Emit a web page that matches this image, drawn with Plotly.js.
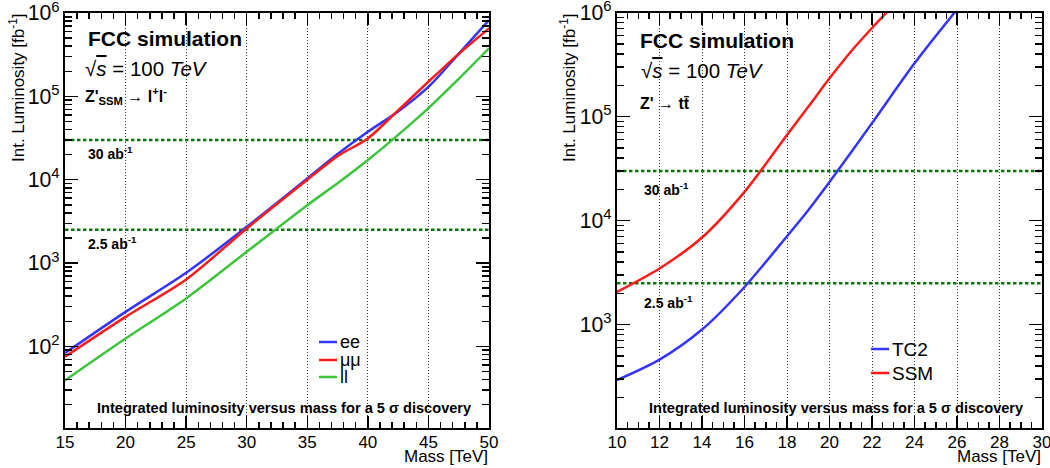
<!DOCTYPE html>
<html>
<head>
<meta charset="utf-8">
<script src="https://cdn.plot.ly/plotly-3.0.1.min.js"></script>
<style>html,body{margin:0;padding:0;background:#fff;}#chart{width:1050px;height:468px;}</style>
</head>
<body>
<div id="chart"></div>
<script>
// ---------- data ----------
const massLeft   = [15, 20, 25, 30, 35, 37.5, 40, 42.5, 45, 47.5, 50];           // TeV
const lumiEE     = [83, 259, 762, 2720, 10350, 20300, 37600, 66000, 130000, 324000, 824000]; // fb^-1
const lumiMuMu   = [75, 226, 635, 2600, 10000, 19200, 31300, 68000, 150000, 324000, 655000];
const lumiLL     = [39, 124, 376, 1365, 4950, 9040, 17200, 34500, 72400, 162000, 377000];

const massTC2    = [10, 12, 14, 16, 18, 19, 20, 22, 24, 26];
const lumiTC2    = [292, 460, 896, 2300, 7080, 12600, 23500, 86500, 325000, 1070000];
const massSSM    = [10, 12, 14, 16, 18, 19, 20, 21, 22, 23];
const lumiSSM    = [2060, 3460, 6870, 18900, 66400, 124000, 233000, 420000, 710000, 1170000];

const massRangeLeft  = [15, 50];
const massRangeRight = [10, 30];
const lumiTargets    = [30000, 2500];                       // fb^-1
const targetLabels   = ['30 ab<sup>-1</sup>', '2.5 ab<sup>-1</sup>'];
const seriesLeft     = ['ee', 'μμ', 'll'];
const seriesRight    = ['TC2', 'SSM'];

// ---------- style ----------
const W = 1050, H = 468;
const px = v => v / W, py = v => 1 - v / H;
const FONT = 'Liberation Sans, Arial, Helvetica, sans-serif';
const COL = {blue: '#3434ff', red: '#ff1a1a', green: '#3cc43c', dgreen: '#0c760c'};
const colorsLeft = [COL.blue, COL.red, COL.green];
const colorsRight = [COL.blue, COL.red];

function curve(x, y, color, xa, ya) {
  return {x: x, y: y, xaxis: xa, yaxis: ya, type: 'scatter', mode: 'lines',
    line: {color: color, width: 2.5, shape: 'spline', smoothing: 0.8},
    showlegend: false, hoverinfo: 'x+y'};
}
function target(range, val, xa, ya) {
  return {x: range, y: [val, val], xaxis: xa, yaxis: ya, type: 'scatter', mode: 'lines',
    line: {color: COL.dgreen, width: 2.5, dash: '3.5px,2.5px'}, showlegend: false, hoverinfo: 'y'};
}

const traces = [];
lumiTargets.forEach(v => traces.push(target(massRangeLeft, v, 'x', 'y')));
lumiTargets.forEach(v => traces.push(target(massRangeRight, v, 'x2', 'y2')));
[lumiEE, lumiMuMu, lumiLL].forEach((ys, i) => traces.push(curve(massLeft, ys, colorsLeft[i], 'x', 'y')));
traces.push(curve(massTC2, lumiTC2, COL.blue, 'x2', 'y2'));
traces.push(curve(massSSM, lumiSSM, COL.red, 'x2', 'y2'));

function xAxis(domain, range, dtick, minorDtick, anchor) {
  return {domain: domain, range: range, anchor: anchor, dtick: dtick, tick0: 0,
    ticks: 'inside', ticklen: 12, tickwidth: 1.5, tickcolor: '#000',
    linewidth: 2, linecolor: '#000', mirror: 'allticks', zeroline: false,
    showgrid: true, gridcolor: '#333', gridwidth: 1, griddash: '1px,2px',
    minor: {dtick: minorDtick, ticks: 'inside', ticklen: 6, tickwidth: 1.5, tickcolor: '#000', showgrid: false},
    ticklabeloverflow: 'allow', ticklabelstandoff: -2,
    tickfont: {family: FONT, size: 17, color: '#000'}, fixedrange: true};
}
function yAxis(domain, range, anchor) {
  return {type: 'log', domain: domain, range: range, anchor: anchor, dtick: 1,
    exponentformat: 'power', showexponent: 'all',
    ticks: 'inside', ticklen: 13, tickwidth: 1.5, tickcolor: '#000',
    linewidth: 2, linecolor: '#000', mirror: 'allticks', zeroline: false, showgrid: false,
    minor: {dtick: 'D1', ticks: 'inside', ticklen: 7, tickwidth: 1.5, tickcolor: '#000', showgrid: false},
    ticklabeloverflow: 'allow',
    tickfont: {family: FONT, size: 17, color: '#000'}, fixedrange: true};
}

function txt(x, y, text, size, opts) {
  return Object.assign({xref: 'paper', yref: 'paper', x: px(x), y: py(y), text: text,
    showarrow: false, xanchor: 'left', yanchor: 'middle',
    font: {family: FONT, size: size, color: '#000'}}, opts || {});
}
const B = s => '<b>' + s + '</b>';
const sqrtS = '√<span style="text-decoration:overline"><i>s</i></span> = 100 <i>TeV</i>';
const bottomText = B('Integrated luminosity versus mass for a 5 σ discovery');
const yTitle = 'Int. Luminosity [fb<sup>-1</sup>]';

const annotations = [
  // left panel
  txt(86, 38, B('FCC simulation'), 21),
  txt(83, 68, sqrtS, 20.5),
  txt(83, 96, B("Z'<sub>SSM</sub> → l<sup>+</sup>l<sup>-</sup>"), 16),
  txt(86, 153.5, B(targetLabels[0]), 14),
  txt(86, 243, B(targetLabels[1]), 14),
  txt(284.5, 408, bottomText, 14.6, {xanchor: 'center'}),
  txt(17, 88, yTitle, 17, {xanchor: 'center', textangle: -90}),
  txt(490, 456, 'Mass [TeV]', 17, {xanchor: 'right'}),
  // right panel
  txt(638, 40, B('FCC simulation'), 21),
  txt(639, 70, sqrtS, 20.5),
  txt(638, 103, B("Z' → tt̄"), 16),
  txt(642, 189, B(targetLabels[0]), 14),
  txt(642, 302, B(targetLabels[1]), 14),
  txt(836.5, 408, bottomText, 14.6, {xanchor: 'center'}),
  txt(568, 88, yTitle, 17, {xanchor: 'center', textangle: -90}),
  txt(1043, 456, 'Mass [TeV]', 17, {xanchor: 'right'})
];
const shapes = [];
const legLeftY = [342, 360, 377];
seriesLeft.forEach((name, i) => {
  annotations.push(txt(338, legLeftY[i], name, 18));
  shapes.push({type: 'line', xref: 'paper', yref: 'paper', x0: px(319), x1: px(337),
    y0: py(legLeftY[i]), y1: py(legLeftY[i]), line: {color: colorsLeft[i], width: 2.5}});
});
const legRightY = [349, 373];
seriesRight.forEach((name, i) => {
  annotations.push(txt(890, legRightY[i], name, 19));
  shapes.push({type: 'line', xref: 'paper', yref: 'paper', x0: px(871), x1: px(889),
    y0: py(legRightY[i]), y1: py(legRightY[i]), line: {color: colorsRight[i], width: 2.5}});
});

const layout = {
  width: W, height: H, margin: {l: 0, r: 0, t: 0, b: 0},
  paper_bgcolor: '#fff', plot_bgcolor: '#fff', showlegend: false,
  font: {family: FONT, color: '#000'},
  xaxis:  xAxis([px(65), px(489)], massRangeLeft, 5, 1, 'y'),
  yaxis:  yAxis([py(428), py(13)], [1.02, 6.0005], 'x'),
  xaxis2: xAxis([px(617), px(1042)], massRangeRight, 2, 0.5, 'y2'),
  yaxis2: yAxis([py(428), py(12.5)], [2.006, 6.0005], 'x2'),
  annotations: annotations, shapes: shapes
};
Plotly.newPlot('chart', traces, layout, {displayModeBar: false, staticPlot: true});
</script>
</body>
</html>
